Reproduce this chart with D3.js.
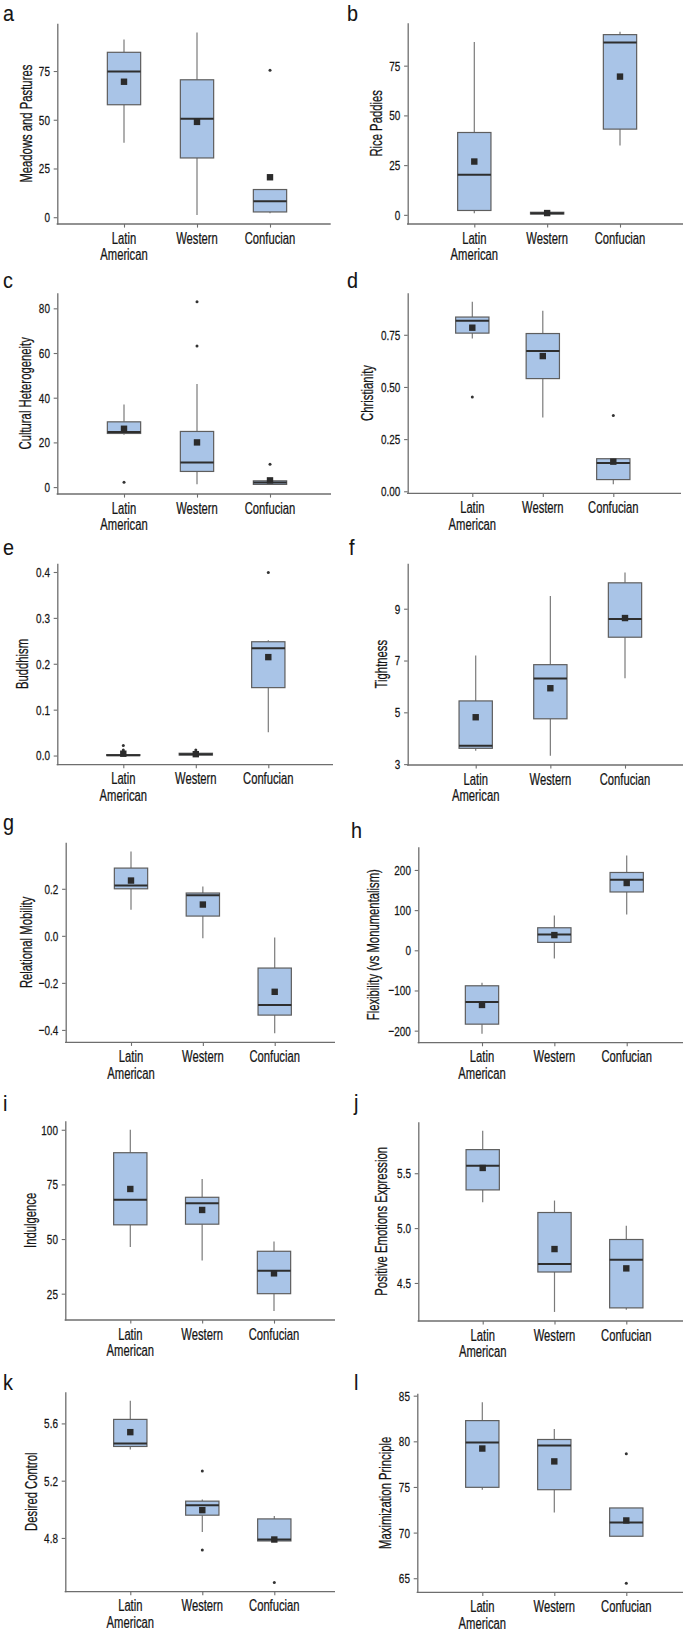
<!DOCTYPE html>
<html><head><meta charset="utf-8">
<script src="https://cdn.jsdelivr.net/npm/d3@7"></script>
<style>body{margin:0;background:#fff}svg{display:block}</style>
</head><body>
<script>
// ---------- DATA ----------
const categories = ["Latin American", "Western", "Confucian"];
const panelLetters = ["a","b","c","d","e","f","g","h","i","j","k","l"];
const yTitles = ["Meadows and Pastures","Rice Paddies","Cultural Heterogeneity","Christianity","Buddhism","Tightness",
  "Relational Mobility","Flexibility (vs Monumentalism)","Indulgence","Positive Emotions Expression","Desired Control","Maximization Principle"];

const whiskerMin = [[38.2,1.2,2.0],[0.85,0.0,34.9],[23.4,1.3,1.0],[0.732,0.353,0.034],[0,0,0.051],[3.52,3.32,6.32],
  [0.111,-0.010,-0.414],[-207.8,-20.6,89],[46.3,40.2,17.1],[5.236,4.236,4.257],[5.418,4.842,4.772],[74.7,72.2,69.6]];
const q1 = [[57.7,30.4,2.7],[2.2,0.4,43.1],[24.0,7.0,1.2],[0.758,0.540,0.056],[0,0.001,0.148],[3.61,4.75,7.90],
  [0.200,0.084,-0.337],[-183.8,19.8,145.2],[56.5,56.8,25.0],[5.348,4.600,4.273],[5.439,4.959,4.779],[74.96,74.7,69.6]];
const medians = [[74.8,50.5,8.2],[20.1,0.8,86.6],[24.6,11.0,2.1],[0.817,0.672,0.136],[0.0005,0.003,0.234],[3.71,6.31,8.60],
  [0.214,0.173,-0.294],[-128.6,39.6,175.6],[68.0,66.4,35.5],[5.569,4.673,4.712],[5.46,5.029,4.789],[79.87,79.54,71.1]];
const q3 = [[84.6,70.5,14.2],[41.4,1.3,90.6],[29.2,24.9,2.8],[0.835,0.756,0.156],[0.002,0.005,0.248],[5.44,6.84,10.0],
  [0.288,0.182,-0.137],[-88.3,56.1,193.7],[89.5,69.1,44.4],[5.715,5.142,4.896],[5.628,5.057,4.933],[82.27,80.2,72.7]];
const whiskerMax = [[91.2,94.8,14.2],[86.9,1.6,92.0],[37.0,46.1,3.6],[0.908,0.865,0.158],[0.002,0.008,0.251],[7.19,9.49,10.40],
  [0.359,0.210,-0.007],[-80.8,86.6,235.7],[100,77.5,48.9],[5.887,5.251,5.021],[5.758,5.068,4.954],[84.27,81.36,72.7]];
const means = [[69.5,48.9,20.5],[26.8,0.9,69.5],[26.1,20.0,3.0],[0.784,0.648,0.142],[0.004,0.003,0.2145],[4.81,5.93,8.64],
  [0.235,0.133,-0.238],[-136,37.9,167.5],[72.9,63.3,34.3],[5.548,4.809,4.633],[5.539,4.994,4.789],[79.21,77.8,71.33]];
const outliers = [
  [[],[],[75.4]], [[],[],[]], [[2.2],[82.9,63.1],[10.2]], [[0.452],[],[0.363]],
  [[0.022,0.012,0.009,0.007,0.005],[0.012],[0.399]], [[],[],[]], [[],[],[]], [[],[],[]],
  [[],[],[]], [[],[],[]], [[],[5.268,4.716],[4.488]], [[],[],[78.64,64.45]]];

const tickValues = [[0,25,50,75],[0,25,50,75],[0,20,40,60,80],[0,0.25,0.5,0.75],[0,0.1,0.2,0.3,0.4],[3,5,7,9],
  [-0.4,-0.2,0,0.2],[-200,-100,0,100,200],[25,50,75,100],[4.5,5,5.5],[4.8,5.2,5.6],[65,70,75,80,85]];
const tickLabels = [["0","25","50","75"],["0","25","50","75"],["0","20","40","60","80"],["0.00","0.25","0.50","0.75"],
  ["0.0","0.1","0.2","0.3","0.4"],["3","5","7","9"],["\u22120.4","\u22120.2","0.0","0.2"],
  ["\u2212200","\u2212100","0","100","200"],["25","50","75","100"],["4.5","5.0","5.5"],["4.8","5.2","5.6"],
  ["65","70","75","80","85"]];

// ---------- LAYOUT ----------
const layout = [
 {ax:57.3, top:23.3, bottom:224, c0:124, c2:270, right:330.7, tx:26, lx:3, ly:21},
 {ax:407.7, top:22.7, bottom:224, c0:474.3, c2:620, right:683, tx:376, lx:347, ly:21},
 {ax:57.3, top:292.7, bottom:494, c0:124, c2:270, right:331, tx:25, lx:3, ly:288},
 {ax:407.7, top:292.7, bottom:493.3, c0:472.3, c2:613.3, right:681, tx:367.3, lx:347, ly:288},
 {ax:57.3, top:563.3, bottom:764.7, c0:123.3, c2:268.3, right:333, tx:22.7, lx:3, ly:555},
 {ax:407.7, top:563.3, bottom:765, c0:475.7, c2:625, right:683, tx:381.7, lx:349, ly:555},
 {ax:65.7, top:842.3, bottom:1042.3, c0:131, c2:274.7, right:335, tx:26, lx:3, ly:830},
 {ax:418.3, top:846.7, bottom:1042.7, c0:482, c2:626.7, right:683, tx:373.3, lx:351, ly:838},
 {ax:65.3, top:1120.7, bottom:1320, c0:130.3, c2:274, right:335, tx:30, lx:3, ly:1111},
 {ax:418.3, top:1121.7, bottom:1321, c0:482.7, c2:626.3, right:683, tx:381.7, lx:354, ly:1110},
 {ax:65.3, top:1391.7, bottom:1591.7, c0:130.3, c2:274.3, right:335, tx:31.7, lx:3, ly:1390},
 {ax:417.3, top:1393.3, bottom:1592.3, c0:482.3, c2:626.3, right:683, tx:385.7, lx:354, ly:1390}
];

const FONT = "'Liberation Sans', Arial, Helvetica, sans-serif";
const SX = 0.72;
const COL = {fill:"#a9c4e7", boxStroke:"#5e5e5e", median:"#2e2e2e", whisker:"#7a7a7a", mean:"#2b2b2b",
  outlier:"#333", axis:"#6e6e6e", text:"#141414"};
const BOXW = 33.3, MEAN = 6.4;

const svg = d3.select("body").append("svg").attr("width",685).attr("height",1629);

function label(g, x, y, str, size, anchor, rot, sx){
  return g.append("text")
    .attr("transform", `translate(${x},${y})` + (rot ? ` rotate(${rot})` : "") + ` scale(${sx||SX},1)`)
    .attr("text-anchor", anchor).attr("font-family", FONT).attr("font-size", size)
    .attr("fill", COL.text).attr("stroke", COL.text).attr("stroke-width", 0.25).text(str);
}

layout.forEach((L, p) => {
  const g = svg.append("g");
  const all = [].concat(whiskerMin[p], whiskerMax[p], means[p], ...outliers[p]);
  const lo = d3.min(all), hi = d3.max(all), r = hi - lo;
  const y = d3.scaleLinear().domain([lo - 0.05*r, hi + 0.05*r]).range([L.bottom, L.top]);
  const x = d3.scalePoint().domain(categories).range([L.c0, L.c2]);

  // y axis
  const yAx = g.append("g").attr("transform", `translate(${L.ax},0)`)
    .call(d3.axisLeft(y).tickValues(tickValues[p]).tickFormat("").tickSize(3.6).tickSizeOuter(0));
  yAx.select(".domain").attr("stroke", COL.axis).attr("stroke-width", 1.3);
  yAx.selectAll(".tick line").attr("stroke", COL.axis).attr("stroke-width", 1.1);
  tickValues[p].forEach((v, i) => {
    label(g, L.ax - 7.4, y(v), tickLabels[p][i], 13.6, "end", 0, 0.73).attr("dy", "0.36em");
  });

  // x axis
  const xAx = g.append("g").attr("transform", `translate(0,${L.bottom})`)
    .call(d3.axisBottom(x).tickFormat("").tickSize(3.6).tickSizeOuter(0));
  xAx.select(".domain").remove();
  xAx.selectAll(".tick line").attr("stroke", COL.axis).attr("stroke-width", 1.1);
  g.append("line").attr("x1", L.ax - 0.65).attr("x2", L.right).attr("y1", L.bottom).attr("y2", L.bottom)
    .attr("stroke", COL.axis).attr("stroke-width", 1.3);
  categories.forEach(c => {
    const parts = c.split(" ");
    parts.forEach((t, k) => label(g, x(c), L.bottom + 19.6 + k*16.7, t, 15.6, "middle"));
  });

  // axis title
  label(g, L.tx, (L.top + L.bottom)/2, yTitles[p], 15.7, "middle", -90).attr("dy", "0.36em");
  // panel letter
  label(g, L.lx, L.ly, panelLetters[p], 22.5, "start", 0, 0.88).attr("stroke-width", 0.1);

  // boxes
  categories.forEach((c, i) => {
    const cx = x(c);
    g.append("line").attr("x1", cx).attr("x2", cx).attr("y1", y(whiskerMax[p][i])).attr("y2", y(q3[p][i]))
      .attr("stroke", COL.whisker).attr("stroke-width", 1.2);
    g.append("line").attr("x1", cx).attr("x2", cx).attr("y1", y(q1[p][i])).attr("y2", y(whiskerMin[p][i]))
      .attr("stroke", COL.whisker).attr("stroke-width", 1.2);
    g.append("rect").attr("x", cx - BOXW/2).attr("width", BOXW)
      .attr("y", y(q3[p][i])).attr("height", Math.max(0.5, y(q1[p][i]) - y(q3[p][i])))
      .attr("fill", COL.fill).attr("stroke", COL.boxStroke).attr("stroke-width", 1.2);
    g.append("line").attr("x1", cx - BOXW/2).attr("x2", cx + BOXW/2)
      .attr("y1", y(medians[p][i])).attr("y2", y(medians[p][i]))
      .attr("stroke", COL.median).attr("stroke-width", 2);
    outliers[p][i].forEach(o => {
      g.append("circle").attr("cx", cx).attr("cy", y(o)).attr("r", 1.5).attr("fill", COL.outlier);
    });
    g.append("rect").attr("x", cx - MEAN/2).attr("y", y(means[p][i]) - MEAN/2)
      .attr("width", MEAN).attr("height", MEAN).attr("fill", COL.mean);
  });
});
</script>
</body></html>
